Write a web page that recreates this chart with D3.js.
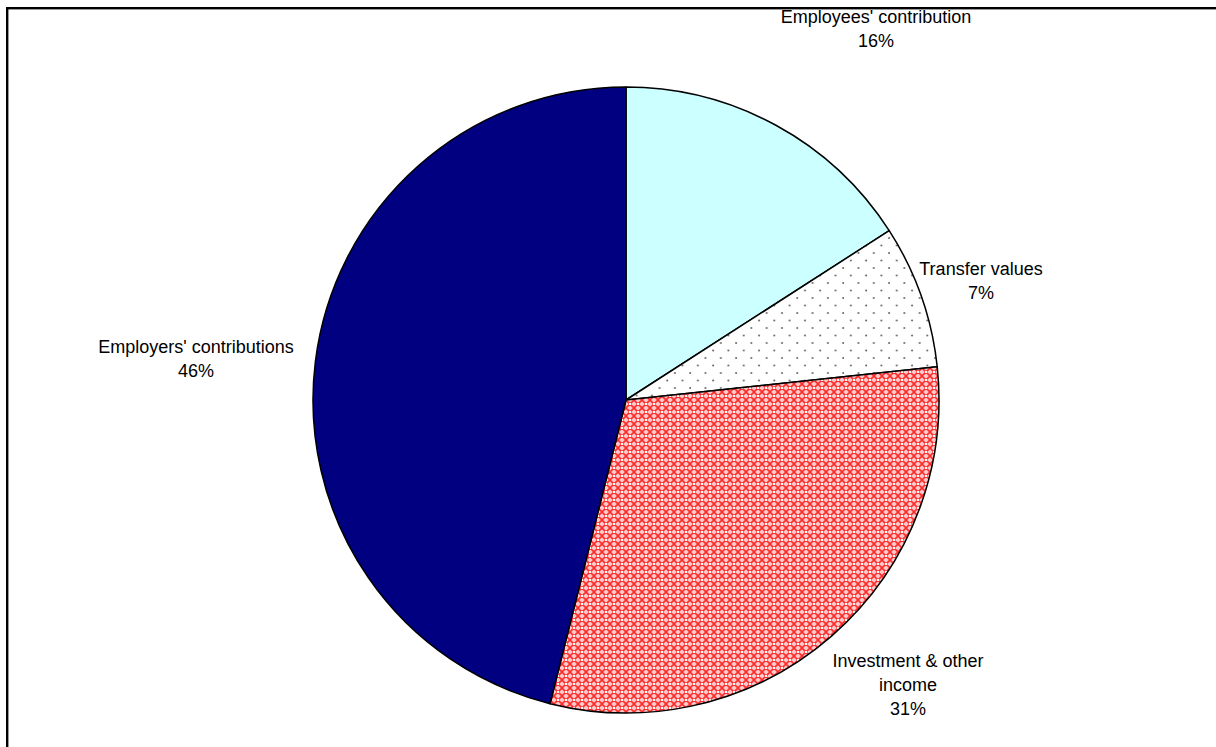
<!DOCTYPE html>
<html>
<head>
<meta charset="utf-8">
<script src="https://cdn.jsdelivr.net/npm/d3@7"></script>
<style>
  html, body { margin: 0; padding: 0; background: #fff; }
  svg { display: block; font-family: "Liberation Sans", Arial, sans-serif; }
</style>
</head>
<body>
<svg id="chart" width="1216" height="747"></svg>
<script>
// slice data, clockwise from 12 o'clock
const categories = ["Employees' contribution", "Transfer values", "Investment & other income", "Employers' contributions"];
const values = [15.9, 7.4, 30.6, 46.1];
const pctLabels = ["16%", "7%", "31%", "46%"];
const labelLines = [
  ["Employees' contribution"],
  ["Transfer values"],
  ["Investment & other", "income"],
  ["Employers' contributions"]
];

const width = 1216, height = 747;
const cx = 626, cy = 400, radius = 313;

// label anchor (center x, first baseline y)
const labelAt = [
  { x: 876, y: 23 },
  { x: 981, y: 275 },
  { x: 908, y: 667 },
  { x: 196, y: 353 }
];
const lineGap = 24;

const svg = d3.select("#chart");
const defs = svg.append("defs");

// dotted fill for transfer values
const dots = defs.append("pattern")
  .attr("id", "dots")
  .attr("patternUnits", "userSpaceOnUse")
  .attr("width", 15.3).attr("height", 15);
dots.append("rect").attr("width", 15.3).attr("height", 15).attr("fill", "#fff");
dots.append("circle").attr("cx", 3).attr("cy", 3).attr("r", 1).attr("fill", "#666");
dots.append("circle").attr("cx", 10.65).attr("cy", 10.5).attr("r", 1).attr("fill", "#666");

// red trellis fill for investment income
const hatch = defs.append("pattern")
  .attr("id", "hatch")
  .attr("patternUnits", "userSpaceOnUse")
  .attr("width", 8).attr("height", 8);
hatch.append("rect").attr("width", 8).attr("height", 8).attr("fill", "#ffc8c8");
hatch.append("path")
  .attr("d", "M0,0L8,8M8,0L0,8M-4,4L4,-4M4,12L12,4M-4,4L4,12M4,-4L12,4")
  .attr("stroke", "#ff2a2a").attr("stroke-width", 1.6).attr("fill", "none");
hatch.append("rect").attr("x", 3).attr("y", 3).attr("width", 2).attr("height", 2).attr("fill", "#fff");

const fills = ["#ccffff", "url(#dots)", "url(#hatch)", "#000080"];

// frame (runs past right/bottom edge)
svg.append("rect")
  .attr("x", 7.2).attr("y", 8.2)
  .attr("width", width).attr("height", height)
  .attr("fill", "none").attr("stroke", "#000").attr("stroke-width", 2.4);

const pie = d3.pie().sort(null).value(d => d);
const arc = d3.arc().innerRadius(0).outerRadius(radius);

const g = svg.append("g").attr("transform", `translate(${cx},${cy})`);
g.selectAll("path")
  .data(pie(values))
  .enter()
  .append("path")
  .attr("d", arc)
  .attr("fill", (d, i) => fills[i])
  .attr("stroke", "#000")
  .attr("stroke-width", 1.5)
  .attr("stroke-linejoin", "round");

// labels
categories.forEach((c, i) => {
  const lines = labelLines[i].concat([pctLabels[i]]);
  const t = svg.append("text")
    .attr("text-anchor", "middle")
    .attr("font-size", 18)
    .attr("fill", "#000");
  lines.forEach((ln, k) => {
    t.append("tspan")
      .attr("x", labelAt[i].x)
      .attr("y", labelAt[i].y + k * lineGap)
      .text(ln);
  });
});
</script>
</body>
</html>
